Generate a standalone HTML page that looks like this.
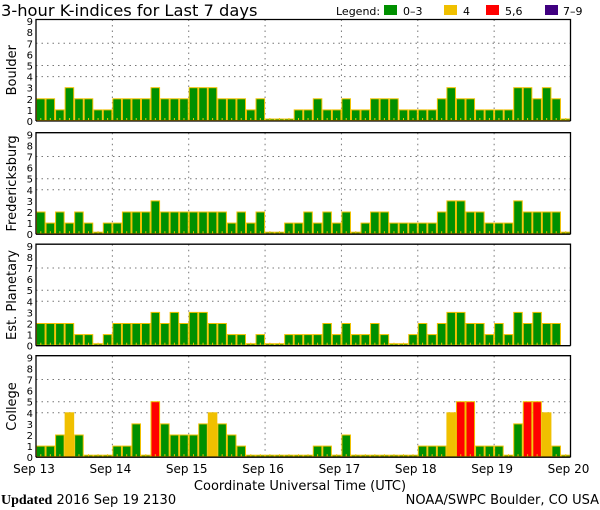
<!DOCTYPE html>
<html><head><meta charset="utf-8"><style>
body{margin:0;background:#fff;}
svg{display:block;font-family:"DejaVu Sans","Liberation Sans",sans-serif;}
</style></head><body>
<svg id="chart" width="600" height="510" viewBox="0 0 600 510" xmlns="http://www.w3.org/2000/svg">
<text x="1" y="16" font-size="16.3" fill="#000">3-hour K-indices for Last 7 days</text>
<g font-size="11">
<text x="336" y="15">Legend:</text>
<rect x="384" y="5" width="13" height="10" fill="#009000"/><text x="403" y="15">0–3</text>
<rect x="444" y="5" width="13" height="10" fill="#f0c000"/><text x="463" y="15">4</text>
<rect x="486" y="5" width="13" height="10" fill="#ff0000"/><text x="505" y="15">5,6</text>
<rect x="545" y="5" width="13" height="10" fill="#400080"/><text x="563" y="15">7–9</text>
</g>
<g id="panels"></g>
<text x="300" y="490" font-size="13" text-anchor="middle">Coordinate Universal Time (UTC)</text>
<text x="1" y="504" font-size="13"><tspan font-family="Liberation Serif,serif" font-weight="bold" font-size="14">Updated</tspan> 2016 Sep 19 2130</text>
<text x="599" y="504" font-size="13" text-anchor="end">NOAA/SWPC Boulder, CO USA</text>
</svg>
<script>
const days = ["Sep 13","Sep 14","Sep 15","Sep 16","Sep 17","Sep 18","Sep 19","Sep 20"];
const yTicks = [0,1,2,3,4,5,6,7,8,9];
const panelNames = ["Boulder","Fredericksburg","Est. Planetary","College"];
const boulder = [2,2,1,3,2,2,1,1, 2,2,2,2,3,2,2,2, 3,3,3,2,2,2,1,2, 0,0,0,1,1,2,1,1, 2,1,1,2,2,2,1,1, 1,1,2,3,2,2,1,1, 1,1,3,3,2,3,2,0];
const fredericksburg = [2,1,2,1,2,1,0,1, 1,2,2,2,3,2,2,2, 2,2,2,2,1,2,1,2, 0,0,1,1,2,1,2,1, 2,0,1,2,2,1,1,1, 1,1,2,3,3,2,2,1, 1,1,3,2,2,2,2,0];
const planetary = [2,2,2,2,1,1,0,1, 2,2,2,2,3,2,3,2, 3,3,2,2,1,1,0,1, 0,0,1,1,1,1,2,1, 2,1,1,2,1,0,0,1, 2,1,2,3,3,2,2,1, 2,1,3,2,3,2,2,null];
const college = [1,1,2,4,2,0,0,0, 1,1,3,0,5,3,2,2, 2,3,4,3,2,1,0,0, 0,0,0,0,0,1,1,0, 2,0,0,0,0,0,0,0, 1,1,1,4,5,5,1,1, 1,0,3,5,5,4,1,0];
const series = [boulder, fredericksburg, planetary, college];

const NS="http://www.w3.org/2000/svg";
const X0=36, X1=570.5, NB=56;
const panelTops=[19.5,132.7,244.2,355.7], PH=101.5, UNIT=11.1;
const xs = i => X0 + i*(X1-X0)/NB;
const xDay = d => X0 + d*(X1-X0)/7;
function el(tag, attrs, parent){const e=document.createElementNS(NS,tag);for(const k in attrs)e.setAttribute(k,attrs[k]);parent.appendChild(e);return e;}
function color(v){return v<=3?"#009000":v===4?"#f0c000":v<=6?"#ff0000":"#400080";}
const root=document.getElementById("panels");
series.forEach((data,p)=>{
  const top=panelTops[p], zero=top+PH;
  const ys = v => zero - v*UNIT;
  const g=el("g",{},root);
  
  
  [4,5,7].forEach(v=>{el("line",{x1:X0,x2:X1,y1:ys(v),y2:ys(v),stroke:"#777","stroke-width":1,"stroke-dasharray":"1.5,4"},g);});
  for(let d=1;d<7;d++){el("line",{x1:xDay(d),x2:xDay(d),y1:top,y2:zero,stroke:"#777","stroke-width":1,"stroke-dasharray":"1.5,4"},g);}
  data.forEach((v,i)=>{
    if(v===null) return;
    const h=Math.max(v*UNIT,2);
    const r=el("rect",{x:xs(i)+0.5,y:zero-h,width:(X1-X0)/NB-1,height:h-0.5,fill:color(v),stroke:"#f0c000","stroke-width":1},g);
    
    
    el("line",{x1:xs(i)+4.8,x2:xs(i)+4.8,y1:zero-3,y2:zero,stroke:"#f0c000","stroke-width":1},g);
  });
  el("polyline",{points:`${X0},${zero} ${X0},${top} ${X1},${top} ${X1},${zero}`,fill:"none",stroke:"#000","stroke-width":1.3},g);
  el("line",{x1:X0,x2:X1,y1:zero,y2:zero,stroke:"#000","stroke-width":1.3},g);
  yTicks.forEach(t=>{const tx=el("text",{x:33,y:ys(t)+4,"font-size":10,"text-anchor":"end"},g);tx.textContent=t;});
  const lab=el("text",{x:0,y:0,"font-size":13,"text-anchor":"middle",transform:`translate(16,${top+PH/2}) rotate(-90)`},g);
  lab.textContent=panelNames[p];
  
  
  if(p===3){
    days.forEach((d,i)=>{const t=el("text",{x:xDay(i)-2,y:473,"font-size":12,"text-anchor":"middle"},g);t.textContent=d;
      
      });
  }
});
</script>
</body></html>
